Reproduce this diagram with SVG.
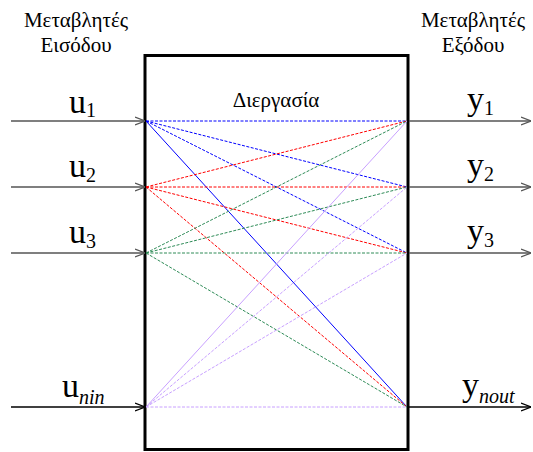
<svg xmlns="http://www.w3.org/2000/svg" width="533" height="452" viewBox="0 0 533 452">
<defs>
<style>
text{font-family:'Liberation Serif','Times New Roman',serif;fill:#000}
.title{font-size:21px;text-anchor:middle}
.v{font-size:34px}
.s{font-size:20px}
.si{font-size:20px;font-style:italic}
.io{stroke-width:1.4;fill:none}
.c{stroke-width:1;fill:none;stroke-dasharray:3 1.5}
.b{stroke:#0000ff}.r{stroke:#ff0000}.g{stroke:#2e8b57}.p{stroke:#c8a0ff}
.solid{stroke-dasharray:none}
</style>
<marker id="ah" viewBox="0 0 10 10" refX="10" refY="5" markerWidth="10" markerHeight="10" markerUnits="userSpaceOnUse" orient="auto">
<path d="M0,1 L10,5 L0,9" fill="none" stroke="context-stroke" stroke-width="1.3"/>
</marker>
</defs>
<rect width="533" height="452" fill="#fff"/>
<g id="title-in"><text class="title" x="76" y="27">Μεταβλητές</text><text class="title" x="76" y="52">Εισόδου</text></g>
<g id="title-out"><text class="title" x="473" y="27">Μεταβλητές</text><text class="title" x="473" y="52">Εξόδου</text></g>
<g id="process">
<rect x="145" y="55.5" width="263" height="394" fill="none" stroke="#000" stroke-width="3"/>
<text x="276" y="107" font-size="21" text-anchor="middle">Διεργασία</text>
</g>
<g id="connectors">
<g class="b">
<line class="c" x1="146" y1="121" x2="407" y2="121"/>
<line class="c" x1="146" y1="121" x2="407" y2="187"/>
<line class="c" x1="146" y1="121" x2="407" y2="253"/>
<line class="c solid" x1="146" y1="121" x2="407" y2="407"/>
</g>
<g class="r">
<line class="c" x1="146" y1="187" x2="407" y2="121"/>
<line class="c" x1="146" y1="187" x2="407" y2="187"/>
<line class="c" x1="146" y1="187" x2="407" y2="253"/>
<line class="c" x1="146" y1="187" x2="407" y2="407"/>
</g>
<g class="g">
<line class="c" x1="146" y1="253" x2="407" y2="121"/>
<line class="c" x1="146" y1="253" x2="407" y2="187"/>
<line class="c" x1="146" y1="253" x2="407" y2="253"/>
<line class="c" x1="146" y1="253" x2="407" y2="407"/>
</g>
<g class="p">
<line class="c solid" x1="146" y1="407" x2="407" y2="121"/>
<line class="c" x1="146" y1="407" x2="407" y2="187"/>
<line class="c" x1="146" y1="407" x2="407" y2="253"/>
<line class="c" x1="146" y1="407" x2="407" y2="407"/>
</g>
<g id="inputs">
<line class="io" x1="11" y1="121" x2="145" y2="121" stroke="#555" marker-end="url(#ah)"/>
<line class="io" x1="11" y1="187" x2="145" y2="187" stroke="#555" marker-end="url(#ah)"/>
<line class="io" x1="11" y1="253" x2="145" y2="253" stroke="#555" marker-end="url(#ah)"/>
<line class="io" x1="11" y1="407" x2="145" y2="407" stroke="#000" marker-end="url(#ah)"/>
</g>
<g id="outputs">
<line class="io" x1="409" y1="121" x2="531" y2="121" stroke="#555" marker-end="url(#ah)"/>
<line class="io" x1="409" y1="187" x2="531" y2="187" stroke="#555" marker-end="url(#ah)"/>
<line class="io" x1="409" y1="253" x2="531" y2="253" stroke="#555" marker-end="url(#ah)"/>
<line class="io" x1="409" y1="407" x2="531" y2="407" stroke="#000" marker-end="url(#ah)"/>
</g>
</g>
<g id="u1"><text class="v" x="69" y="113">u<tspan class="s" dy="4">1</tspan></text></g>
<g id="u2"><text class="v" x="69" y="177">u<tspan class="s" dy="5">2</tspan></text></g>
<g id="u3"><text class="v" x="69" y="243">u<tspan class="s" dy="5">3</tspan></text></g>
<g id="unin"><text class="v" x="62" y="397">u<tspan class="si" dy="7">nin</tspan></text></g>
<g id="y1"><text class="v" x="467" y="110">y<tspan class="s" dy="5">1</tspan></text></g>
<g id="y2"><text class="v" x="467" y="176">y<tspan class="s" dy="5">2</tspan></text></g>
<g id="y3"><text class="v" x="467" y="242">y<tspan class="s" dy="5">3</tspan></text></g>
<g id="ynout"><text class="v" x="462" y="396">y<tspan class="si" dy="7">nout</tspan></text></g>
</svg>
